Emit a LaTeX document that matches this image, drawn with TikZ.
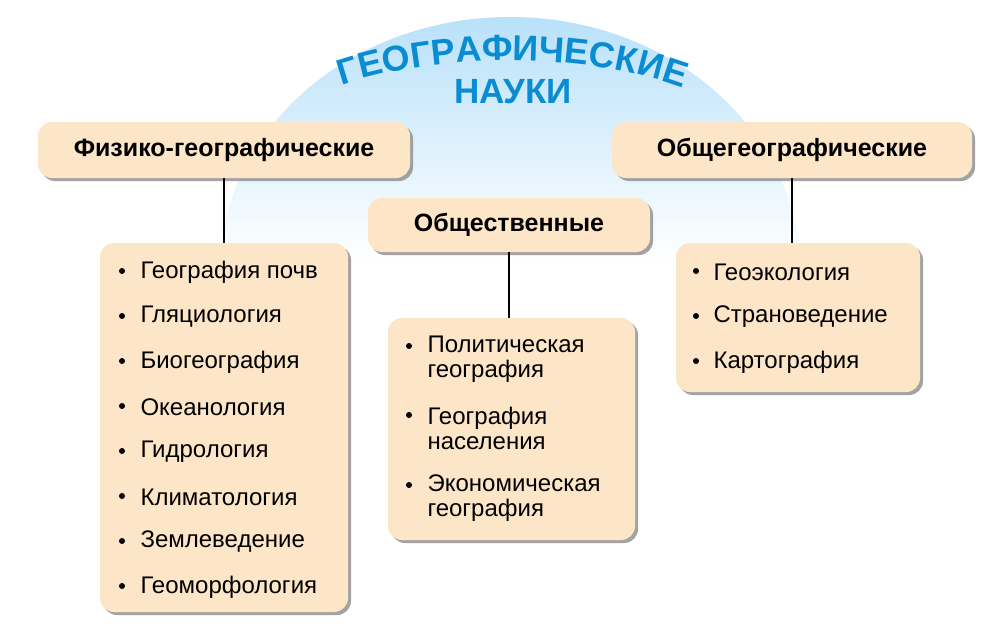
\documentclass[tikz,border=0pt]{standalone}
\usepackage{fontspec}
\setmainfont{Liberation Sans}
\usetikzlibrary{decorations.text,shadows}
\definecolor{peach}{RGB}{253,230,200}
\definecolor{titleblue}{RGB}{10,140,210}
\definecolor{domeblue}{RGB}{185,225,250}
\tikzset{
 box/.style={draw=none,fill=peach,rounded corners=14pt,drop shadow={shadow xshift=3pt,shadow yshift=-3pt,fill=black!45,opacity=.8}},
 head/.style={font=\bfseries\fontsize{25}{28}\selectfont},
 item/.style={anchor=west,font=\fontsize{24}{25}\selectfont,align=left},
 bul/.style={fill=black,circle,inner sep=0pt,minimum size=6pt},
 conn/.style={line width=1.2pt,black}
}
\begin{document}
\begin{tikzpicture}[x=1pt,y=-1pt]
\useasboundingbox (0,0) rectangle (1000,634);
\begin{scope}
 \clip (510,270) ellipse[x radius=290,y radius=253];
 \shade[top color=domeblue,bottom color=white] (200,17) rectangle (820,262);
\end{scope}
\path[decorate,decoration={text along path,text align=center,text={|\bfseries\fontsize{36}{40}\selectfont\color{titleblue}|ГЕОГРАФИЧЕСКИЕ}}]
 (314,96) .. controls (420,48) and (610,48) .. (710,100);
\node[font=\bfseries\fontsize{35}{40}\selectfont,text=titleblue] (t2) at (513,92) {НАУКИ};
% boxes
\node[box,minimum width=372pt,minimum height=56pt,head] (fg) at (224,150) {Физико-географические};
\node[box,minimum width=360pt,minimum height=56pt,head] (og) at (792,150) {Общегеографические};
\node[box,minimum width=282pt,minimum height=54pt,head] (ob) at (509,225) {Общественные};
\node[box,minimum width=248pt,minimum height=369pt] (L) at (224,427.5) {};
\node[box,minimum width=247pt,minimum height=222pt] (M) at (511.5,429) {};
\node[box,minimum width=244pt,minimum height=149pt] (R) at (798,317.5) {};
\draw[conn] (fg.south) -- (fg.south |- L.north);
\draw[conn] (ob.south) -- (ob.south |- M.north);
\draw[conn] (og.south) -- (og.south |- R.north);
% left list
\foreach \t [count=\i] in {География почв,Гляциология,Биогеография,Океанология,Гидрология,Климатология,Землеведение,Геоморфология}{
 \node[bul] (lb\i) at (122,{271+45*(\i-1)}) {};
 \node[item] (lt\i) at (137,{272+45*(\i-1)}) {\t};
}
% middle list
\foreach \t/\y [count=\i] in {Политическая\\география/359,География\\населения/428,Экономическая\\география/498}{
 \node[bul] (mb\i) at (409,\y-13) {};
 \node[item] (mt\i) at (424,\y) {\t};
}
% right list
\foreach \t [count=\i] in {Геоэкология,Страноведение,Картография}{
 \node[bul] (rb\i) at (696,{271+45*(\i-1)}) {};
 \node[item] (rt\i) at (710,{272+45*(\i-1)}) {\t};
}
\end{tikzpicture}
\end{document}
